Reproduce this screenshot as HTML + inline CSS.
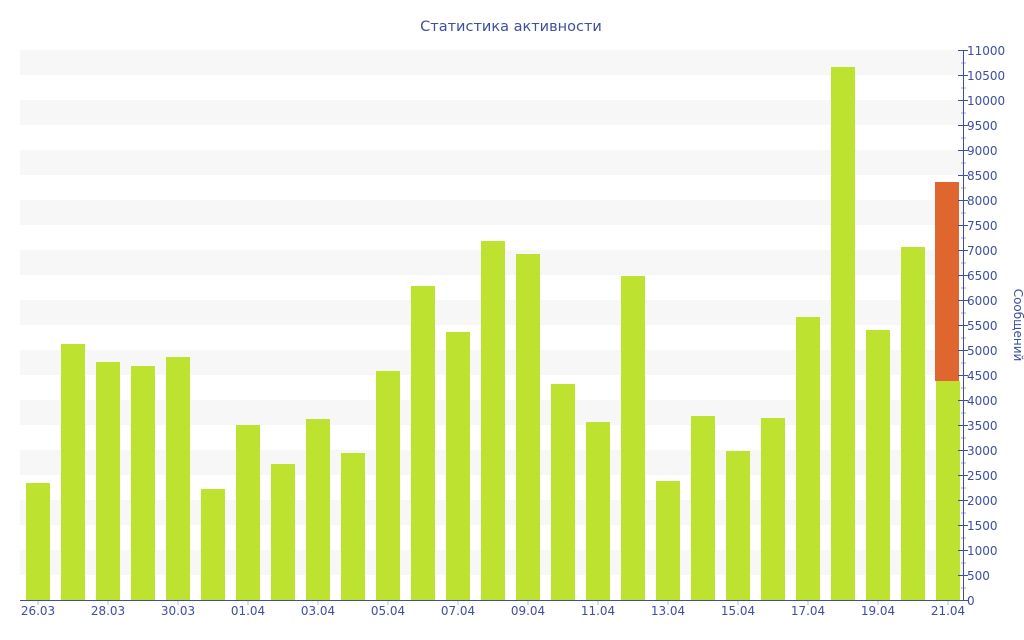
<!DOCTYPE html><html><head><meta charset="utf-8"><style>body{margin:0;background:#fff}svg{display:block}text{font-family:"DejaVu Sans","Liberation Sans",sans-serif;fill:#3d4f9f}</style></head><body>
<svg width="1024" height="640" xmlns="http://www.w3.org/2000/svg">
<text x="511" y="31" font-size="14.5" text-anchor="middle">Статистика активности</text>
<g id="bands" fill="#f7f7f7"></g>
<g id="bars"></g>
<g id="ax" stroke="#3d4f9f" stroke-width="1"></g>
<g id="lab" font-size="12"></g>
<text transform="translate(1014,325) rotate(90)" font-size="12" text-anchor="middle">Сообщений</text>
<script>
var ns="http://www.w3.org/2000/svg";function el(p,t,a,tx){var e=document.createElementNS(ns,t);for(var k in a)e.setAttribute(k,a[k]);if(tx!=null)e.textContent=tx;document.getElementById(p).appendChild(e);}
for(var v=500;v<11000;v+=1000){var y=600-(v+500)*0.05;el("bands","rect",{x:20,y:y,width:943,height:25});}
var d=[2340,5120,4760,4680,4860,2220,3500,2720,3620,2940,4580,6280,5360,7180,6920,4320,3560,6480,2380,3680,2980,3640,5660,10660,5400,7060,4380];
var lb=["26.03","28.03","30.03","01.04","03.04","05.04","07.04","09.04","11.04","13.04","15.04","17.04","19.04","21.04"];
for(var i=0;i<27;i++){var c=38+i*35;el("bars","rect",{x:c-12,y:600-d[i]*0.05,width:24,height:d[i]*0.05,fill:"#bde22f"});}
el("bars","rect",{x:935,y:182,width:24,height:600-182-d[26]*0.05,fill:"#e0662f"});
el("ax","line",{x1:963.5,y1:50,x2:963.5,y2:600.5});el("ax","line",{x1:20,y1:600.5,x2:963.5,y2:600.5});
for(var v=0;v<=11000;v+=500){var y=600.5-v*0.05;el("ax","line",{x1:958,y1:y,x2:968,y2:y});if(v<11000)el("ax","line",{x1:961,y1:y-12.5,x2:966,y2:y-12.5,"stroke-opacity":0.5});el("lab","text",{x:967,y:y+4.5},v);}
for(var j=0;j<14;j++){var c=38+j*70;el("lab","text",{x:c,y:615,"text-anchor":"middle"},lb[j]);el("ax","line",{x1:c,y1:601,x2:c,y2:605,"stroke-opacity":0.4});}
</script>
</svg></body></html>
